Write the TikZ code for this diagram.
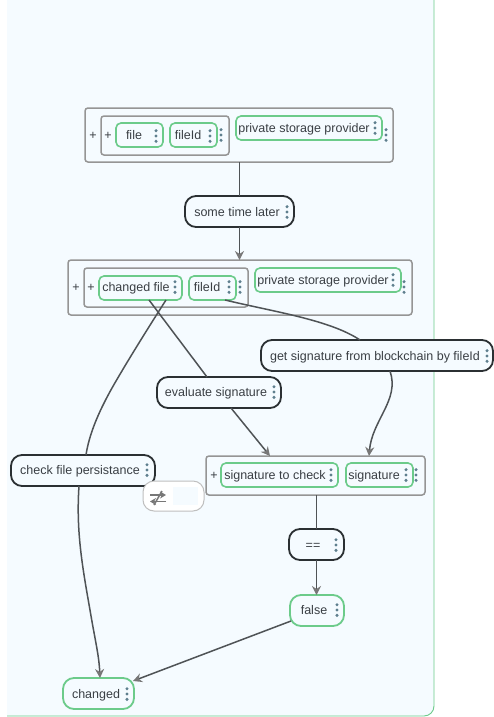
\documentclass[tikz,border=0pt]{standalone}
\usepackage{fontspec}
\setmainfont{Liberation Sans}
\usetikzlibrary{arrows.meta,calc}
\definecolor{panel}{HTML}{F5FBFF}
\definecolor{grn}{HTML}{6CCB8A}
\definecolor{boxgray}{HTML}{959595}
\definecolor{blk}{HTML}{2B3033}
\definecolor{edgec}{HTML}{4F5356}
\definecolor{tipc}{HTML}{777777}
\definecolor{txt}{HTML}{3A3F44}
\definecolor{dotc}{HTML}{5E7F8E}
\tikzset{
  x=1pt,y=-1pt,
  greenbox/.style={draw=grn,line width=1.6pt,rounded corners=5pt,fill=panel},
  groupbox/.style={draw=boxgray,line width=1.5pt,rounded corners=3pt,fill=panel},
  blackbox/.style={draw=blk,line width=1.8pt,rounded corners=11pt,fill=panel},
  greenpill/.style={draw=grn,line width=1.8pt,rounded corners=11pt,fill=panel},
  widget/.style={draw=black!25,line width=1pt,rounded corners=11pt,fill=white},
  pale/.style={fill=panel,draw=none},
  lab/.style={text=txt,font=\fontsize{12.5}{15}\selectfont,inner sep=0pt,anchor=mid,yshift=-2pt},
  edge/.style={draw=edgec,line width=1.5pt},
  arr/.style={edge,-{Stealth[length=9pt,width=9pt,color=tipc]}},
  swapa/.style={draw=tipc,line width=1.8pt,-{Stealth[length=6pt,width=7pt]}},
}
% \bx{name}{x1}{y1}{x2}{y2}{style}
\newcommand{\bx}[6]{%
  \node[#6,inner sep=0pt,outer sep=0pt,minimum width={(#4-#2)*1pt},minimum height={(#5-#3)*1pt},rectangle] (#1) at ({(#2+#4)/2},{(#3+#5)/2}) {};}
\newcommand{\kb}[2]{\foreach \d in {-5.3,0,5.3}{\fill[dotc] (#1,#2+\d) circle (1.7pt);}}
\begin{document}
\begin{tikzpicture}
\useasboundingbox (0,0) rectangle (493,717);
\fill[white] (0,0) rectangle (493,717);
\fill[panel] (7,0) -- (434,0) -- (434,706) arc[start angle=0,end angle=90,radius=10] -- (7,716) -- cycle;
\draw[grn,line width=.9pt] (434,0) -- (434,706) arc[start angle=0,end angle=90,radius=10] -- (7,716);

% group boxes
\bx{outerA}{85}{108}{393}{162}{groupbox}
\bx{innerA}{101}{116}{229}{155}{groupbox}
\bx{outerB}{68}{260}{412}{315}{groupbox}
\bx{innerB}{84}{268}{248}{307}{groupbox}
\bx{outerC}{206}{456}{425}{495}{groupbox}
% leaf boxes
\bx{file}{116}{123}{163}{147}{greenbox}
\bx{fileid}{170}{123}{217}{147}{greenbox}
\bx{psp}{236}{116}{382}{140}{greenbox}
\bx{later}{185}{196}{294}{227}{blackbox}
\bx{chfile}{99}{276}{182}{300}{greenbox}
\bx{fileidB}{189}{276}{236}{300}{greenbox}
\bx{pspB}{255}{268}{401}{292}{greenbox}
\bx{getsig}{261}{340}{493}{371}{blackbox}
\bx{evalsig}{157}{377}{281}{408}{blackbox}
\bx{check}{11}{455}{155}{486}{blackbox}
\bx{sigcheck}{221}{463}{338}{487}{greenbox}
\bx{sig}{346}{463}{413}{487}{greenbox}
\bx{eq}{289}{529}{344}{560}{blackbox}
\bx{false}{290}{595}{344}{626}{greenpill}
\bx{changed}{63}{678}{134}{709}{greenpill}

% connectors
\draw[edge] (outerA.south -| later.north) -- (later.north);
\draw[arr] (later.south) -- (outerB.north -| later.south);
\draw[edge] ($(chfile.south west)+(50,0)$) -- ($(evalsig.north west)+(50,0)$);
\draw[arr] ($(evalsig.south west)+(74,0)$) -- ($(outerC.north west)+(64,0)$);
\draw[edge] ($(chfile.south west)+(67,0)$) .. controls (150,325) and (128,360) .. (112,388)
   .. controls (98,413) and (89,435) .. ($(check.north west)+(75,0)$);
\draw[arr] ($(check.south west)+(68,0)$) .. controls (76,530) and (82,565) .. (90,610)
   .. controls (95,640) and (99,655) .. ($(changed.north west)+(37,0)$);
\draw[edge] ($(fileidB.south west)+(36,0)$) .. controls (275,312) and (330,320) .. ($(getsig.north west)+(99,0)$);
\draw[arr] ($(getsig.south west)+(129,0)$) .. controls (400,400) and (372,420) .. ($(outerC.north west)+(163,0)$);
\draw[edge] (outerC.south -| eq.north) -- (eq.north);
\draw[arr] (eq.south) -- (false.north -| eq.south);
\draw[arr] ($(false.south west)+(1,-5)$) -- ($(changed.north east)+(-1,3)$);

% labels
\node[lab] (plusA) at (93,135) {+};
\node[lab] (plusAi) at (108,135) {+};
\node[lab] (tfile) at (134,135) {file};
\node[lab] (tfileid) at (188,135) {fileId};
\node[lab] (tpsp) at (304,128) {private storage provider};
\node[lab] (tlater) at (237,212) {some time later};
\node[lab] (plusB) at (76,287) {+};
\node[lab] (plusBi) at (91,287) {+};
\node[lab] (tch) at (136,287) {changed file};
\node[lab] (tfileidB) at (207,287) {fileId};
\node[lab] (tpspB) at (323,280) {private storage provider};
\node[lab] (tget) at (375,356) {get signature from blockchain by fileId};
\node[lab] (teval) at (216,392) {evaluate signature};
\node[lab] (tcheck) at (80,470) {check file persistance};
\node[lab] (plusC) at (214,475) {+};
\node[lab] (tsc) at (275,475) {signature to check};
\node[lab] (tsig) at (374,475) {signature};
\node[lab] (teq) at (313,545) {==};
\node[lab] (tfalse) at (314,610) {false};
\node[lab] (tchanged) at (96,694) {changed};

% kebab menus
\kb{156}{136}\kb{210}{136}\kb{221}{135}\kb{375}{128}\kb{386}{135}
\kb{287}{212}
\kb{175}{287}\kb{229}{287}\kb{240}{287}\kb{393}{280}\kb{404}{287}
\kb{487}{356}\kb{274}{392}\kb{147}{470}
\kb{331}{475}\kb{406}{475}\kb{416}{475}
\kb{336}{545}\kb{337}{610}\kb{127}{694}

% swap widget
\bx{swap}{143}{481}{204}{511}{widget}
\bx{swappale}{173}{487}{198}{505}{pale}
\draw[swapa] (150,495) -- (166,495);
\draw[swapa] (166,501.5) -- (150,501.5);
\draw[draw=tipc,line width=1.5pt] (154,505) -- (162,491);
\end{tikzpicture}
\end{document}
